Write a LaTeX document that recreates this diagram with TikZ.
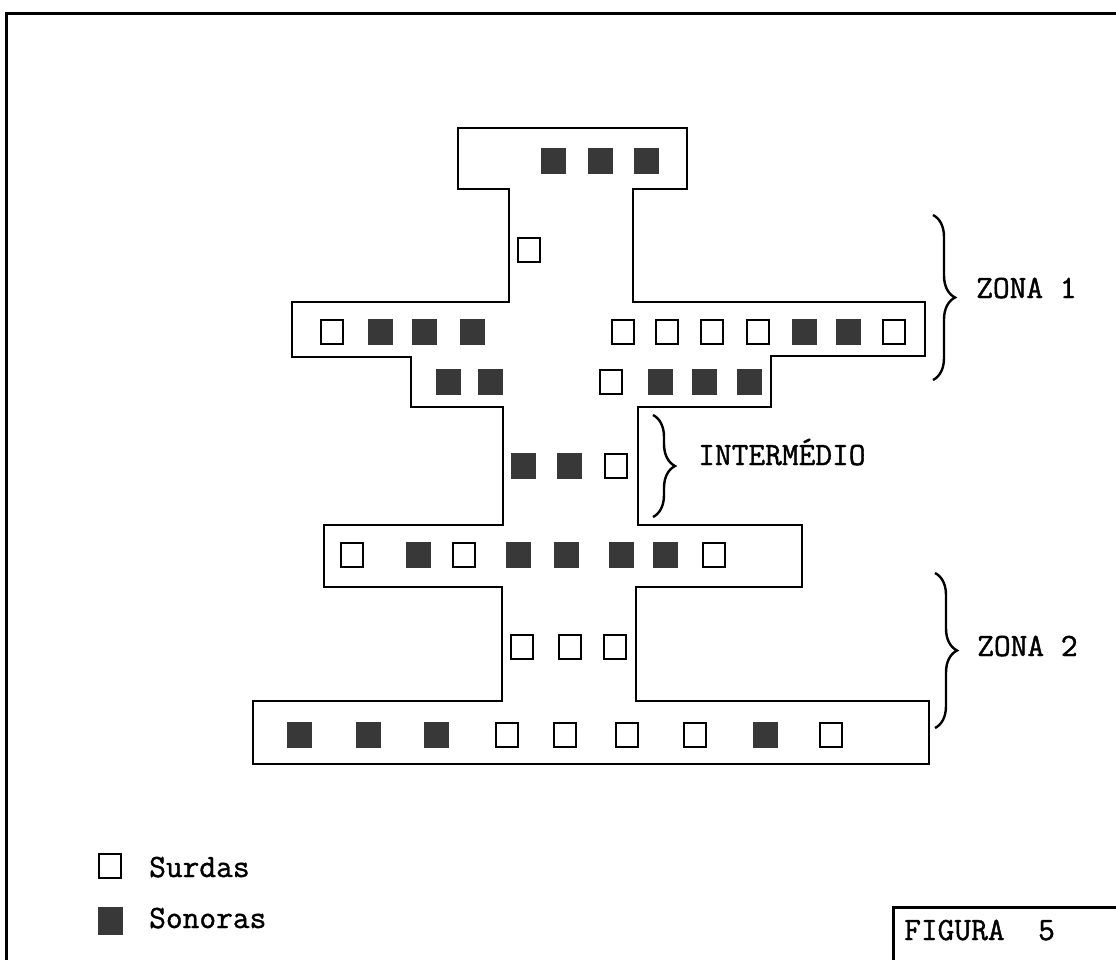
\documentclass[tikz,border=0pt]{standalone}
\usepackage{fontspec}
\newfontfamily\tw{Latin Modern Mono}[FakeBold=1.2]
\usetikzlibrary{decorations.pathreplacing}
\definecolor{sonoracol}{gray}{0.22}
\begin{document}
\begin{tikzpicture}[x=1pt,y=-1pt,
  surda/.style={draw=black, line width=2.3pt, fill=white, minimum width=21.5pt, minimum height=23.5pt, inner sep=0pt, outer sep=0pt},
  sonora/.style={fill=sonoracol, draw=none, minimum width=25pt, minimum height=26pt, inner sep=0pt, outer sep=0pt},
  outline/.style={line width=2.8pt, line join=miter},
  framelines/.style={line width=3pt},
  lbl/.style={font=\tw\fontsize{32.5}{34}\selectfont, anchor=base west, inner sep=0pt},
  zbrace/.style={decorate, decoration={brace, amplitude=22pt}, line width=2.4pt}]
\fill[white] (0,0) rectangle (1116,959);
\useasboundingbox (0,0) rectangle (1116,959);
% frame
\draw[framelines] (6,961) -- (6,13) -- (1118,13);
\draw[framelines] (893,961) -- (893,907) -- (1118,907);
% outline of the figure
\draw[outline] (458,128) -- (687,128) -- (687,189) -- (633,189) -- (633,302)
  -- (925,302) -- (925,356) -- (771,356) -- (771,407) -- (638,407) -- (638,525)
  -- (802,525) -- (802,587) -- (636,587) -- (636,701) -- (929,701) -- (929,764)
  -- (253,764) -- (253,701) -- (502,701) -- (502,587) -- (324,587) -- (324,525)
  -- (503,525) -- (503,407) -- (411,407) -- (411,357) -- (292,357) -- (292,302)
  -- (509,302) -- (509,189) -- (458,189) -- cycle;
% top bar
\foreach \x [count=\i] in {553,600,646} \node[sonora] (a\i) at (\x,161) {};
\node[surda] (s1) at (529,250) {};
% zona 1 rows
\foreach \x/\t [count=\i] in {332/surda,380/sonora,424/sonora,472/sonora,623/surda,667/surda,712/surda,758/surda,804/sonora,848/sonora,894/surda}
  \node[\t] (b\i) at (\x,332) {};
\foreach \x/\t [count=\i] in {448/sonora,490/sonora,611/surda,660/sonora,704/sonora,749/sonora}
  \node[\t] (c\i) at (\x,382) {};
% intermediate
\foreach \x/\t [count=\i] in {523/sonora,569/sonora,616/surda}
  \node[\t] (d\i) at (\x,466) {};
% middle bar
\foreach \x/\t [count=\i] in {352/surda,418/sonora,464/surda,518/sonora,566/sonora,621/sonora,665/sonora,714/surda}
  \node[\t] (e\i) at (\x,555) {};
% lower stem
\foreach \x [count=\i] in {522,570,615} \node[surda] (f\i) at (\x,647) {};
% bottom bar
\foreach \x/\t [count=\i] in {299/sonora,368/sonora,436/sonora,507/surda,565/surda,627/surda,695/surda,765/sonora,831/surda}
  \node[\t] (g\i) at (\x,735) {};
% braces
\coordinate (z1t) at (933,215); \coordinate (z1b) at (933,380);
\coordinate (it) at (653,415); \coordinate (ib) at (653,517);
\coordinate (z2t) at (935,573); \coordinate (z2b) at (935,728);
\draw[zbrace] (z1t) -- (z1b);
\draw[zbrace] (it) -- (ib);
\draw[zbrace] (z2t) -- (z2b);
% labels
\node[lbl] (zona1) at (976,298) {ZONA 1};
\node[lbl] (inter) at (698,465) {INTERMÉDIO};
\node[lbl] (zona2) at (977,656) {ZONA 2};
% legend
\node[surda] (ls) at (110,866) {};
\node[sonora, minimum height=28pt] (ld) at (110,921) {};
\node[lbl] (tsurdas) at (149,877) {Surdas};
\node[lbl] (tsonoras) at (149,928) {Sonoras};
\node[lbl] (fig) at (904,940) {FIGURA\ \ 5};
\end{tikzpicture}
\end{document}
